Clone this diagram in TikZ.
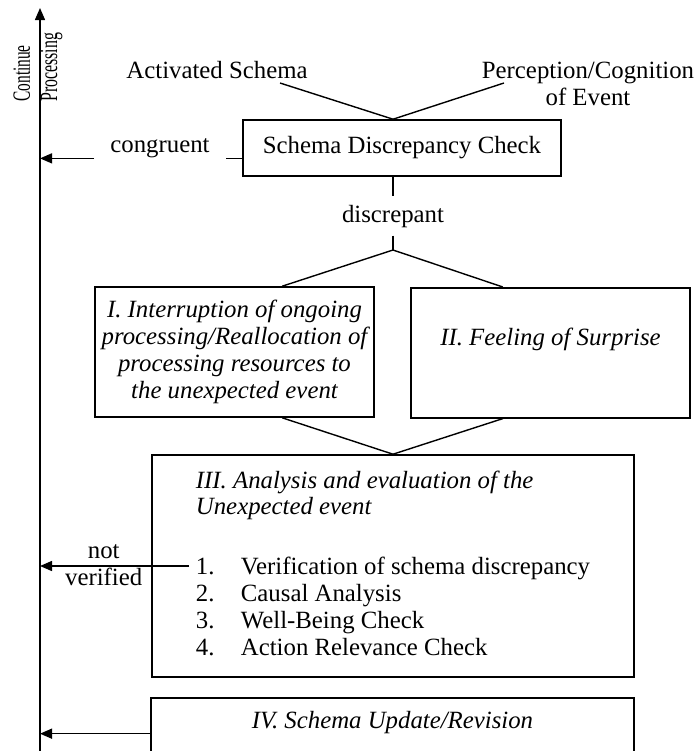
\documentclass[tikz,border=0pt]{standalone}
\usepackage{fontspec}
\setmainfont{Liberation Serif}
\usetikzlibrary{
  positioning,
  arrows.meta,
  calc
}

\begin{document}
\begin{tikzpicture}[
  x=0.5pt, y=-0.5pt,
  font=\fontsize{12.4}{13.4}\selectfont,
  stage/.style={
    rectangle,
    draw=black,
    line width=0.8pt,
    align=center
  },
  slanted/.style={
    font=\fontsize{12.4}{13.4}\selectfont\itshape
  },
  tag/.style={
    inner sep=0pt
  },
  link/.style={
    line width=0.7pt,
    draw=black
  },
  flow/.style={
    -{Triangle[length=6pt,width=5pt]},
    line width=0.7pt,
    draw=black
  }
]
\useasboundingbox (0,0) rectangle (695,751);

% Inputs & Check
\node[tag] (act) at (217,70) {Activated Schema};
\node[tag, align=center] (perc) at (588,84) {Perception/Cognition\\of Event};
\node[stage, minimum width=159pt, minimum height=28pt] (sdc) at (402,148) {Schema Discrepancy Check};
\node[tag, anchor=base, inner xsep=8pt] (cong) at (160,152) {congruent};
\node[tag, anchor=base, inner ysep=4pt] (disc) at (393,222) {discrepant};

% Reactions
\node[stage, slanted, minimum width=139.5pt, minimum height=65pt] (intr) at (234.5,352)
  {I. Interruption of ongoing\\processing/Reallocation of\\processing resources to\\the unexpected event};
\node[stage, slanted, anchor=north, minimum width=139.5pt, inner ysep=0pt,
  text height=29pt, text depth=36pt] (surp) at (550.5,287) {II. Feeling of Surprise};

% Analysis & Revision
\node[stage, align=left, minimum width=241pt, minimum height=111pt, inner xsep=21.5pt] (anal) at (393,566)
  {\textit{III. Analysis and evaluation of the}\\\textit{Unexpected event}\\[16.6pt]
   \makebox[22.5pt][l]{1.}Verification of schema discrepancy\\
   \makebox[22.5pt][l]{2.}Causal Analysis\\
   \makebox[22.5pt][l]{3.}Well-Being Check\\
   \makebox[22.5pt][l]{4.}Action Relevance Check\rule[-3pt]{0pt}{3pt}};
\node[stage, slanted, anchor=north, minimum width=241.5pt, inner ysep=0pt,
  text height=15.5pt, text depth=30pt] (rev) at (392.5,697) {IV. Schema Update/Revision};

% Continue axis
\coordinate (axtop) at (40,8);
\coordinate (axbot) at (40,760);
\node[tag, rotate=90, anchor=base west] (cont) at (30,102) {\scalebox{0.62}[1]{Continue}};
\node[tag, rotate=90, anchor=base west] (proc) at (57,102) {\scalebox{0.64}[1]{Processing}};

% Junctions
\coordinate (actfoot) at (280,83);
\coordinate (percfoot) at (504,83);
\coordinate (meet) at ($(sdc.north west)!0.472!(sdc.north east)$);
\coordinate (cgin) at ($(sdc.north west)!0.68!(sdc.south west)$);
\coordinate (split) at (393,250);
\coordinate (intrtop) at ($(intr.north west)!0.67!(intr.north east)$);
\coordinate (intrbot) at ($(intr.south west)!0.67!(intr.south east)$);
\coordinate (surptop) at ($(surp.north west)!0.33!(surp.north east)$);
\coordinate (surpbot) at ($(surp.south west)!0.33!(surp.south east)$);
\coordinate (revout) at ($(rev.north west)!0.396!(rev.south west)$);

% Transitions
\draw[flow] (axbot) -- (axtop);
\draw[link] (actfoot) -- (meet);
\draw[link] (percfoot) -- (meet);
\draw[link] (cgin) -- (cgin -| cong.east);
\draw[flow] (cgin -| cong.west) -- (cgin -| axtop);
\draw[link] (sdc.south -| disc) -- (disc.north);
\draw[link] (disc.south) -- (split);
\draw[link] (split) -- (intrtop);
\draw[link] (split) -- (surptop);
\draw[link] (intrbot) -- (anal.north);
\draw[link] (surpbot) -- (anal.north);
\draw[flow] ($(anal.west)+(38,0)$) -- (anal.west -| axtop)
  node[pos=0.573, above] {not}
  node[pos=0.573, below, inner sep=0.5pt] {verified};
\draw[flow] (revout) -- (revout -| axtop);

\end{tikzpicture}
\end{document}
